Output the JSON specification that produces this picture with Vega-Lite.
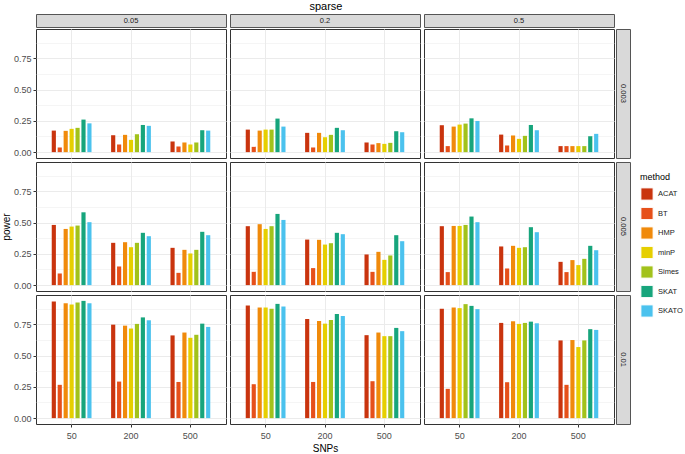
{
  "$schema": "https://vega.github.io/schema/vega-lite/v6.json",
  "padding": {"left": 0, "top": 0, "right": 1, "bottom": 1},
  "title": {"text": "sparse", "fontSize": 11, "fontWeight": "normal", "font": "Liberation Sans", "color": "#000000", "offset": 2, "anchor": "middle", "frame": "bounds", "dx": -16},
  "datasets": {
    "d": [
      {"rate":"0.003","prop":"0.05","SNPs":"50","method":"ACAT","power":0.172},
      {"rate":"0.003","prop":"0.05","SNPs":"50","method":"BT","power":0.037},
      {"rate":"0.003","prop":"0.05","SNPs":"50","method":"HMP","power":0.170},
      {"rate":"0.003","prop":"0.05","SNPs":"50","method":"minP","power":0.186},
      {"rate":"0.003","prop":"0.05","SNPs":"50","method":"Simes","power":0.194},
      {"rate":"0.003","prop":"0.05","SNPs":"50","method":"SKAT","power":0.260},
      {"rate":"0.003","prop":"0.05","SNPs":"50","method":"SKATO","power":0.230},
      {"rate":"0.003","prop":"0.05","SNPs":"200","method":"ACAT","power":0.135},
      {"rate":"0.003","prop":"0.05","SNPs":"200","method":"BT","power":0.061},
      {"rate":"0.003","prop":"0.05","SNPs":"200","method":"HMP","power":0.138},
      {"rate":"0.003","prop":"0.05","SNPs":"200","method":"minP","power":0.098},
      {"rate":"0.003","prop":"0.05","SNPs":"200","method":"Simes","power":0.143},
      {"rate":"0.003","prop":"0.05","SNPs":"200","method":"SKAT","power":0.217},
      {"rate":"0.003","prop":"0.05","SNPs":"200","method":"SKATO","power":0.210},
      {"rate":"0.003","prop":"0.05","SNPs":"500","method":"ACAT","power":0.085},
      {"rate":"0.003","prop":"0.05","SNPs":"500","method":"BT","power":0.045},
      {"rate":"0.003","prop":"0.05","SNPs":"500","method":"HMP","power":0.077},
      {"rate":"0.003","prop":"0.05","SNPs":"500","method":"minP","power":0.061},
      {"rate":"0.003","prop":"0.05","SNPs":"500","method":"Simes","power":0.077},
      {"rate":"0.003","prop":"0.05","SNPs":"500","method":"SKAT","power":0.175},
      {"rate":"0.003","prop":"0.05","SNPs":"500","method":"SKATO","power":0.172},
      {"rate":"0.003","prop":"0.2","SNPs":"50","method":"ACAT","power":0.180},
      {"rate":"0.003","prop":"0.2","SNPs":"50","method":"BT","power":0.042},
      {"rate":"0.003","prop":"0.2","SNPs":"50","method":"HMP","power":0.172},
      {"rate":"0.003","prop":"0.2","SNPs":"50","method":"minP","power":0.180},
      {"rate":"0.003","prop":"0.2","SNPs":"50","method":"Simes","power":0.180},
      {"rate":"0.003","prop":"0.2","SNPs":"50","method":"SKAT","power":0.268},
      {"rate":"0.003","prop":"0.2","SNPs":"50","method":"SKATO","power":0.204},
      {"rate":"0.003","prop":"0.2","SNPs":"200","method":"ACAT","power":0.154},
      {"rate":"0.003","prop":"0.2","SNPs":"200","method":"BT","power":0.037},
      {"rate":"0.003","prop":"0.2","SNPs":"200","method":"HMP","power":0.154},
      {"rate":"0.003","prop":"0.2","SNPs":"200","method":"minP","power":0.119},
      {"rate":"0.003","prop":"0.2","SNPs":"200","method":"Simes","power":0.138},
      {"rate":"0.003","prop":"0.2","SNPs":"200","method":"SKAT","power":0.194},
      {"rate":"0.003","prop":"0.2","SNPs":"200","method":"SKATO","power":0.175},
      {"rate":"0.003","prop":"0.2","SNPs":"500","method":"ACAT","power":0.077},
      {"rate":"0.003","prop":"0.2","SNPs":"500","method":"BT","power":0.061},
      {"rate":"0.003","prop":"0.2","SNPs":"500","method":"HMP","power":0.072},
      {"rate":"0.003","prop":"0.2","SNPs":"500","method":"minP","power":0.066},
      {"rate":"0.003","prop":"0.2","SNPs":"500","method":"Simes","power":0.074},
      {"rate":"0.003","prop":"0.2","SNPs":"500","method":"SKAT","power":0.167},
      {"rate":"0.003","prop":"0.2","SNPs":"500","method":"SKATO","power":0.159},
      {"rate":"0.003","prop":"0.5","SNPs":"50","method":"ACAT","power":0.215},
      {"rate":"0.003","prop":"0.5","SNPs":"50","method":"BT","power":0.048},
      {"rate":"0.003","prop":"0.5","SNPs":"50","method":"HMP","power":0.204},
      {"rate":"0.003","prop":"0.5","SNPs":"50","method":"minP","power":0.220},
      {"rate":"0.003","prop":"0.5","SNPs":"50","method":"Simes","power":0.228},
      {"rate":"0.003","prop":"0.5","SNPs":"50","method":"SKAT","power":0.270},
      {"rate":"0.003","prop":"0.5","SNPs":"50","method":"SKATO","power":0.249},
      {"rate":"0.003","prop":"0.5","SNPs":"200","method":"ACAT","power":0.140},
      {"rate":"0.003","prop":"0.5","SNPs":"200","method":"BT","power":0.053},
      {"rate":"0.003","prop":"0.5","SNPs":"200","method":"HMP","power":0.133},
      {"rate":"0.003","prop":"0.5","SNPs":"200","method":"minP","power":0.106},
      {"rate":"0.003","prop":"0.5","SNPs":"200","method":"Simes","power":0.130},
      {"rate":"0.003","prop":"0.5","SNPs":"200","method":"SKAT","power":0.217},
      {"rate":"0.003","prop":"0.5","SNPs":"200","method":"SKATO","power":0.175},
      {"rate":"0.003","prop":"0.5","SNPs":"500","method":"ACAT","power":0.048},
      {"rate":"0.003","prop":"0.5","SNPs":"500","method":"BT","power":0.048},
      {"rate":"0.003","prop":"0.5","SNPs":"500","method":"HMP","power":0.048},
      {"rate":"0.003","prop":"0.5","SNPs":"500","method":"minP","power":0.048},
      {"rate":"0.003","prop":"0.5","SNPs":"500","method":"Simes","power":0.048},
      {"rate":"0.003","prop":"0.5","SNPs":"500","method":"SKAT","power":0.127},
      {"rate":"0.003","prop":"0.5","SNPs":"500","method":"SKATO","power":0.146},
      {"rate":"0.005","prop":"0.05","SNPs":"50","method":"ACAT","power":0.481},
      {"rate":"0.005","prop":"0.05","SNPs":"50","method":"BT","power":0.093},
      {"rate":"0.005","prop":"0.05","SNPs":"50","method":"HMP","power":0.449},
      {"rate":"0.005","prop":"0.05","SNPs":"50","method":"minP","power":0.468},
      {"rate":"0.005","prop":"0.05","SNPs":"50","method":"Simes","power":0.476},
      {"rate":"0.005","prop":"0.05","SNPs":"50","method":"SKAT","power":0.582},
      {"rate":"0.005","prop":"0.05","SNPs":"50","method":"SKATO","power":0.503},
      {"rate":"0.005","prop":"0.05","SNPs":"200","method":"ACAT","power":0.338},
      {"rate":"0.005","prop":"0.05","SNPs":"200","method":"BT","power":0.149},
      {"rate":"0.005","prop":"0.05","SNPs":"200","method":"HMP","power":0.343},
      {"rate":"0.005","prop":"0.05","SNPs":"200","method":"minP","power":0.303},
      {"rate":"0.005","prop":"0.05","SNPs":"200","method":"Simes","power":0.338},
      {"rate":"0.005","prop":"0.05","SNPs":"200","method":"SKAT","power":0.418},
      {"rate":"0.005","prop":"0.05","SNPs":"200","method":"SKATO","power":0.391},
      {"rate":"0.005","prop":"0.05","SNPs":"500","method":"ACAT","power":0.298},
      {"rate":"0.005","prop":"0.05","SNPs":"500","method":"BT","power":0.098},
      {"rate":"0.005","prop":"0.05","SNPs":"500","method":"HMP","power":0.282},
      {"rate":"0.005","prop":"0.05","SNPs":"500","method":"minP","power":0.253},
      {"rate":"0.005","prop":"0.05","SNPs":"500","method":"Simes","power":0.282},
      {"rate":"0.005","prop":"0.05","SNPs":"500","method":"SKAT","power":0.426},
      {"rate":"0.005","prop":"0.05","SNPs":"500","method":"SKATO","power":0.399},
      {"rate":"0.005","prop":"0.2","SNPs":"50","method":"ACAT","power":0.471},
      {"rate":"0.005","prop":"0.2","SNPs":"50","method":"BT","power":0.106},
      {"rate":"0.005","prop":"0.2","SNPs":"50","method":"HMP","power":0.487},
      {"rate":"0.005","prop":"0.2","SNPs":"50","method":"minP","power":0.449},
      {"rate":"0.005","prop":"0.2","SNPs":"50","method":"Simes","power":0.471},
      {"rate":"0.005","prop":"0.2","SNPs":"50","method":"SKAT","power":0.569},
      {"rate":"0.005","prop":"0.2","SNPs":"50","method":"SKATO","power":0.521},
      {"rate":"0.005","prop":"0.2","SNPs":"200","method":"ACAT","power":0.364},
      {"rate":"0.005","prop":"0.2","SNPs":"200","method":"BT","power":0.136},
      {"rate":"0.005","prop":"0.2","SNPs":"200","method":"HMP","power":0.362},
      {"rate":"0.005","prop":"0.2","SNPs":"200","method":"minP","power":0.324},
      {"rate":"0.005","prop":"0.2","SNPs":"200","method":"Simes","power":0.335},
      {"rate":"0.005","prop":"0.2","SNPs":"200","method":"SKAT","power":0.418},
      {"rate":"0.005","prop":"0.2","SNPs":"200","method":"SKATO","power":0.407},
      {"rate":"0.005","prop":"0.2","SNPs":"500","method":"ACAT","power":0.245},
      {"rate":"0.005","prop":"0.2","SNPs":"500","method":"BT","power":0.106},
      {"rate":"0.005","prop":"0.2","SNPs":"500","method":"HMP","power":0.266},
      {"rate":"0.005","prop":"0.2","SNPs":"500","method":"minP","power":0.202},
      {"rate":"0.005","prop":"0.2","SNPs":"500","method":"Simes","power":0.237},
      {"rate":"0.005","prop":"0.2","SNPs":"500","method":"SKAT","power":0.399},
      {"rate":"0.005","prop":"0.2","SNPs":"500","method":"SKATO","power":0.351},
      {"rate":"0.005","prop":"0.5","SNPs":"50","method":"ACAT","power":0.471},
      {"rate":"0.005","prop":"0.5","SNPs":"50","method":"BT","power":0.104},
      {"rate":"0.005","prop":"0.5","SNPs":"50","method":"HMP","power":0.473},
      {"rate":"0.005","prop":"0.5","SNPs":"50","method":"minP","power":0.473},
      {"rate":"0.005","prop":"0.5","SNPs":"50","method":"Simes","power":0.481},
      {"rate":"0.005","prop":"0.5","SNPs":"50","method":"SKAT","power":0.548},
      {"rate":"0.005","prop":"0.5","SNPs":"50","method":"SKATO","power":0.503},
      {"rate":"0.005","prop":"0.5","SNPs":"200","method":"ACAT","power":0.309},
      {"rate":"0.005","prop":"0.5","SNPs":"200","method":"BT","power":0.133},
      {"rate":"0.005","prop":"0.5","SNPs":"200","method":"HMP","power":0.314},
      {"rate":"0.005","prop":"0.5","SNPs":"200","method":"minP","power":0.298},
      {"rate":"0.005","prop":"0.5","SNPs":"200","method":"Simes","power":0.303},
      {"rate":"0.005","prop":"0.5","SNPs":"200","method":"SKAT","power":0.463},
      {"rate":"0.005","prop":"0.5","SNPs":"200","method":"SKATO","power":0.423},
      {"rate":"0.005","prop":"0.5","SNPs":"500","method":"ACAT","power":0.186},
      {"rate":"0.005","prop":"0.5","SNPs":"500","method":"BT","power":0.104},
      {"rate":"0.005","prop":"0.5","SNPs":"500","method":"HMP","power":0.200},
      {"rate":"0.005","prop":"0.5","SNPs":"500","method":"minP","power":0.160},
      {"rate":"0.005","prop":"0.5","SNPs":"500","method":"Simes","power":0.210},
      {"rate":"0.005","prop":"0.5","SNPs":"500","method":"SKAT","power":0.314},
      {"rate":"0.005","prop":"0.5","SNPs":"500","method":"SKATO","power":0.279},
      {"rate":"0.01","prop":"0.05","SNPs":"50","method":"ACAT","power":0.932},
      {"rate":"0.01","prop":"0.05","SNPs":"50","method":"BT","power":0.266},
      {"rate":"0.01","prop":"0.05","SNPs":"50","method":"HMP","power":0.918},
      {"rate":"0.01","prop":"0.05","SNPs":"50","method":"minP","power":0.908},
      {"rate":"0.01","prop":"0.05","SNPs":"50","method":"Simes","power":0.924},
      {"rate":"0.01","prop":"0.05","SNPs":"50","method":"SKAT","power":0.937},
      {"rate":"0.01","prop":"0.05","SNPs":"50","method":"SKATO","power":0.918},
      {"rate":"0.01","prop":"0.05","SNPs":"200","method":"ACAT","power":0.747},
      {"rate":"0.01","prop":"0.05","SNPs":"200","method":"BT","power":0.292},
      {"rate":"0.01","prop":"0.05","SNPs":"200","method":"HMP","power":0.739},
      {"rate":"0.01","prop":"0.05","SNPs":"200","method":"minP","power":0.716},
      {"rate":"0.01","prop":"0.05","SNPs":"200","method":"Simes","power":0.753},
      {"rate":"0.01","prop":"0.05","SNPs":"200","method":"SKAT","power":0.805},
      {"rate":"0.01","prop":"0.05","SNPs":"200","method":"SKATO","power":0.782},
      {"rate":"0.01","prop":"0.05","SNPs":"500","method":"ACAT","power":0.661},
      {"rate":"0.01","prop":"0.05","SNPs":"500","method":"BT","power":0.289},
      {"rate":"0.01","prop":"0.05","SNPs":"500","method":"HMP","power":0.684},
      {"rate":"0.01","prop":"0.05","SNPs":"500","method":"minP","power":0.642},
      {"rate":"0.01","prop":"0.05","SNPs":"500","method":"Simes","power":0.666},
      {"rate":"0.01","prop":"0.05","SNPs":"500","method":"SKAT","power":0.755},
      {"rate":"0.01","prop":"0.05","SNPs":"500","method":"SKATO","power":0.729},
      {"rate":"0.01","prop":"0.2","SNPs":"50","method":"ACAT","power":0.900},
      {"rate":"0.01","prop":"0.2","SNPs":"50","method":"BT","power":0.271},
      {"rate":"0.01","prop":"0.2","SNPs":"50","method":"HMP","power":0.884},
      {"rate":"0.01","prop":"0.2","SNPs":"50","method":"minP","power":0.884},
      {"rate":"0.01","prop":"0.2","SNPs":"50","method":"Simes","power":0.874},
      {"rate":"0.01","prop":"0.2","SNPs":"50","method":"SKAT","power":0.913},
      {"rate":"0.01","prop":"0.2","SNPs":"50","method":"SKATO","power":0.892},
      {"rate":"0.01","prop":"0.2","SNPs":"200","method":"ACAT","power":0.792},
      {"rate":"0.01","prop":"0.2","SNPs":"200","method":"BT","power":0.289},
      {"rate":"0.01","prop":"0.2","SNPs":"200","method":"HMP","power":0.776},
      {"rate":"0.01","prop":"0.2","SNPs":"200","method":"minP","power":0.755},
      {"rate":"0.01","prop":"0.2","SNPs":"200","method":"Simes","power":0.784},
      {"rate":"0.01","prop":"0.2","SNPs":"200","method":"SKAT","power":0.832},
      {"rate":"0.01","prop":"0.2","SNPs":"200","method":"SKATO","power":0.816},
      {"rate":"0.01","prop":"0.2","SNPs":"500","method":"ACAT","power":0.663},
      {"rate":"0.01","prop":"0.2","SNPs":"500","method":"BT","power":0.295},
      {"rate":"0.01","prop":"0.2","SNPs":"500","method":"HMP","power":0.684},
      {"rate":"0.01","prop":"0.2","SNPs":"500","method":"minP","power":0.655},
      {"rate":"0.01","prop":"0.2","SNPs":"500","method":"Simes","power":0.655},
      {"rate":"0.01","prop":"0.2","SNPs":"500","method":"SKAT","power":0.721},
      {"rate":"0.01","prop":"0.2","SNPs":"500","method":"SKATO","power":0.695},
      {"rate":"0.01","prop":"0.5","SNPs":"50","method":"ACAT","power":0.874},
      {"rate":"0.01","prop":"0.5","SNPs":"50","method":"BT","power":0.234},
      {"rate":"0.01","prop":"0.5","SNPs":"50","method":"HMP","power":0.884},
      {"rate":"0.01","prop":"0.5","SNPs":"50","method":"minP","power":0.879},
      {"rate":"0.01","prop":"0.5","SNPs":"50","method":"Simes","power":0.911},
      {"rate":"0.01","prop":"0.5","SNPs":"50","method":"SKAT","power":0.897},
      {"rate":"0.01","prop":"0.5","SNPs":"50","method":"SKATO","power":0.871},
      {"rate":"0.01","prop":"0.5","SNPs":"200","method":"ACAT","power":0.761},
      {"rate":"0.01","prop":"0.5","SNPs":"200","method":"BT","power":0.287},
      {"rate":"0.01","prop":"0.5","SNPs":"200","method":"HMP","power":0.774},
      {"rate":"0.01","prop":"0.5","SNPs":"200","method":"minP","power":0.753},
      {"rate":"0.01","prop":"0.5","SNPs":"200","method":"Simes","power":0.761},
      {"rate":"0.01","prop":"0.5","SNPs":"200","method":"SKAT","power":0.771},
      {"rate":"0.01","prop":"0.5","SNPs":"200","method":"SKATO","power":0.758},
      {"rate":"0.01","prop":"0.5","SNPs":"500","method":"ACAT","power":0.621},
      {"rate":"0.01","prop":"0.5","SNPs":"500","method":"BT","power":0.266},
      {"rate":"0.01","prop":"0.5","SNPs":"500","method":"HMP","power":0.624},
      {"rate":"0.01","prop":"0.5","SNPs":"500","method":"minP","power":0.568},
      {"rate":"0.01","prop":"0.5","SNPs":"500","method":"Simes","power":0.621},
      {"rate":"0.01","prop":"0.5","SNPs":"500","method":"SKAT","power":0.711},
      {"rate":"0.01","prop":"0.5","SNPs":"500","method":"SKATO","power":0.705}
    ]
  },
  "data": {"name": "d"},
  "columns": 4,
  "spacing": 0,
  "align": "each",
  "concat": [
    {"width": 190, "height": 13, "data": {"values": [{"lab": "0.05"}]}, "view": {"fill": "#D9D9D9", "stroke": "#555555"}, "mark": {"type": "text", "fontSize": 7.5, "font": "Liberation Sans", "color": "#1A1A1A", "baseline": "middle", "align": "center"}, "encoding": {"text": {"field": "lab"}}},
    {"width": 190, "height": 13, "data": {"values": [{"lab": "0.2"}]}, "view": {"fill": "#D9D9D9", "stroke": "#555555"}, "mark": {"type": "text", "fontSize": 7.5, "font": "Liberation Sans", "color": "#1A1A1A", "baseline": "middle", "align": "center"}, "encoding": {"text": {"field": "lab"}}},
    {"width": 190, "height": 13, "data": {"values": [{"lab": "0.5"}]}, "view": {"fill": "#D9D9D9", "stroke": "#555555"}, "mark": {"type": "text", "fontSize": 7.5, "font": "Liberation Sans", "color": "#1A1A1A", "baseline": "middle", "align": "center"}, "encoding": {"text": {"field": "lab"}}},
    {"width": 14, "height": 13, "data": {"values": [{"lab": ""}]}, "view": {"stroke": null}, "mark": {"type": "text"}, "encoding": {"text": {"field": "lab"}}},

    {"width": 190, "height": 129, "transform": [{"filter": "datum.rate === '0.003' && datum.prop === '0.05'"}], "mark": "bar",
     "encoding": {
       "x": {"field": "SNPs", "type": "nominal", "sort": ["50","200","500"], "scale": {"paddingInner": 0.3, "paddingOuter": 0.25}, "axis": {"title": null, "labels": false, "ticks": true, "tickOpacity": 0, "tickSize": 2}},
       "xOffset": {"field": "method", "type": "nominal", "sort": ["ACAT","BT","HMP","minP","Simes","SKAT","SKATO"], "scale": {"paddingInner": 0.3, "paddingOuter": 0.15}},
       "y": {"field": "power", "type": "quantitative", "scale": {"domain": [-0.047, 0.984], "nice": false, "zero": false}, "axis": {"title": null, "values": [0,0.125,0.25,0.375,0.5,0.625,0.75,0.875], "labelOverlap": false, "labelExpr": "datum.value % 0.25 === 0 ? format(datum.value, '.2f') : ''", "tickOpacity": {"condition": {"test": "datum.value % 0.25 !== 0", "value": 0}, "value": 1}, "gridWidth": {"condition": {"test": "datum.value % 0.25 !== 0", "value": 0.5}, "value": 1}}},
       "color": {"field": "method", "type": "nominal", "scale": {"domain": ["ACAT","BT","HMP","minP","Simes","SKAT","SKATO"], "range": ["#C9340E","#E6501A","#F08A0B","#E6CF00","#A2C21B","#17A57C","#4BC2EE"]}, "legend": {"title": "method", "orient": "none", "legendX": 604, "legendY": 159}}
     }},
    {"width": 190, "height": 129, "transform": [{"filter": "datum.rate === '0.003' && datum.prop === '0.2'"}], "mark": "bar",
     "encoding": {
       "x": {"field": "SNPs", "type": "nominal", "sort": ["50","200","500"], "scale": {"paddingInner": 0.3, "paddingOuter": 0.25}, "axis": {"title": null, "labels": false, "ticks": true, "tickOpacity": 0, "tickSize": 2}},
       "xOffset": {"field": "method", "type": "nominal", "sort": ["ACAT","BT","HMP","minP","Simes","SKAT","SKATO"], "scale": {"paddingInner": 0.3, "paddingOuter": 0.15}},
       "y": {"field": "power", "type": "quantitative", "scale": {"domain": [-0.047, 0.984], "nice": false, "zero": false}, "axis": {"title": null, "labels": false, "ticks": true, "tickOpacity": 0, "tickSize": 2, "values": [0,0.125,0.25,0.375,0.5,0.625,0.75,0.875], "gridWidth": {"condition": {"test": "datum.value % 0.25 !== 0", "value": 0.5}, "value": 1}}},
       "color": {"field": "method", "type": "nominal"}
     }},
    {"width": 190, "height": 129, "transform": [{"filter": "datum.rate === '0.003' && datum.prop === '0.5'"}], "mark": "bar",
     "encoding": {
       "x": {"field": "SNPs", "type": "nominal", "sort": ["50","200","500"], "scale": {"paddingInner": 0.3, "paddingOuter": 0.25}, "axis": {"title": null, "labels": false, "ticks": true, "tickOpacity": 0, "tickSize": 2}},
       "xOffset": {"field": "method", "type": "nominal", "sort": ["ACAT","BT","HMP","minP","Simes","SKAT","SKATO"], "scale": {"paddingInner": 0.3, "paddingOuter": 0.15}},
       "y": {"field": "power", "type": "quantitative", "scale": {"domain": [-0.047, 0.984], "nice": false, "zero": false}, "axis": {"title": null, "labels": false, "ticks": true, "tickOpacity": 0, "tickSize": 2, "values": [0,0.125,0.25,0.375,0.5,0.625,0.75,0.875], "gridWidth": {"condition": {"test": "datum.value % 0.25 !== 0", "value": 0.5}, "value": 1}}},
       "color": {"field": "method", "type": "nominal"}
     }},
    {"width": 14, "height": 129, "data": {"values": [{"lab": "0.003"}]}, "view": {"fill": "#D9D9D9", "stroke": "#555555"}, "mark": {"type": "text", "fontSize": 7.5, "font": "Liberation Sans", "color": "#1A1A1A", "baseline": "middle", "align": "center", "angle": 90}, "encoding": {"text": {"field": "lab"}}},

    {"width": 190, "height": 129, "transform": [{"filter": "datum.rate === '0.005' && datum.prop === '0.05'"}], "mark": "bar",
     "encoding": {
       "x": {"field": "SNPs", "type": "nominal", "sort": ["50","200","500"], "scale": {"paddingInner": 0.3, "paddingOuter": 0.25}, "axis": {"title": null, "labels": false, "ticks": true, "tickOpacity": 0, "tickSize": 2}},
       "xOffset": {"field": "method", "type": "nominal", "sort": ["ACAT","BT","HMP","minP","Simes","SKAT","SKATO"], "scale": {"paddingInner": 0.3, "paddingOuter": 0.15}},
       "y": {"field": "power", "type": "quantitative", "scale": {"domain": [-0.047, 0.984], "nice": false, "zero": false}, "axis": {"title": "power", "values": [0,0.125,0.25,0.375,0.5,0.625,0.75,0.875], "labelOverlap": false, "labelExpr": "datum.value % 0.25 === 0 ? format(datum.value, '.2f') : ''", "tickOpacity": {"condition": {"test": "datum.value % 0.25 !== 0", "value": 0}, "value": 1}, "gridWidth": {"condition": {"test": "datum.value % 0.25 !== 0", "value": 0.5}, "value": 1}}},
       "color": {"field": "method", "type": "nominal"}
     }},
    {"width": 190, "height": 129, "transform": [{"filter": "datum.rate === '0.005' && datum.prop === '0.2'"}], "mark": "bar",
     "encoding": {
       "x": {"field": "SNPs", "type": "nominal", "sort": ["50","200","500"], "scale": {"paddingInner": 0.3, "paddingOuter": 0.25}, "axis": {"title": null, "labels": false, "ticks": true, "tickOpacity": 0, "tickSize": 2}},
       "xOffset": {"field": "method", "type": "nominal", "sort": ["ACAT","BT","HMP","minP","Simes","SKAT","SKATO"], "scale": {"paddingInner": 0.3, "paddingOuter": 0.15}},
       "y": {"field": "power", "type": "quantitative", "scale": {"domain": [-0.047, 0.984], "nice": false, "zero": false}, "axis": {"title": null, "labels": false, "ticks": true, "tickOpacity": 0, "tickSize": 2, "values": [0,0.125,0.25,0.375,0.5,0.625,0.75,0.875], "gridWidth": {"condition": {"test": "datum.value % 0.25 !== 0", "value": 0.5}, "value": 1}}},
       "color": {"field": "method", "type": "nominal"}
     }},
    {"width": 190, "height": 129, "transform": [{"filter": "datum.rate === '0.005' && datum.prop === '0.5'"}], "mark": "bar",
     "encoding": {
       "x": {"field": "SNPs", "type": "nominal", "sort": ["50","200","500"], "scale": {"paddingInner": 0.3, "paddingOuter": 0.25}, "axis": {"title": null, "labels": false, "ticks": true, "tickOpacity": 0, "tickSize": 2}},
       "xOffset": {"field": "method", "type": "nominal", "sort": ["ACAT","BT","HMP","minP","Simes","SKAT","SKATO"], "scale": {"paddingInner": 0.3, "paddingOuter": 0.15}},
       "y": {"field": "power", "type": "quantitative", "scale": {"domain": [-0.047, 0.984], "nice": false, "zero": false}, "axis": {"title": null, "labels": false, "ticks": true, "tickOpacity": 0, "tickSize": 2, "values": [0,0.125,0.25,0.375,0.5,0.625,0.75,0.875], "gridWidth": {"condition": {"test": "datum.value % 0.25 !== 0", "value": 0.5}, "value": 1}}},
       "color": {"field": "method", "type": "nominal"}
     }},
    {"width": 14, "height": 129, "data": {"values": [{"lab": "0.005"}]}, "view": {"fill": "#D9D9D9", "stroke": "#555555"}, "mark": {"type": "text", "fontSize": 7.5, "font": "Liberation Sans", "color": "#1A1A1A", "baseline": "middle", "align": "center", "angle": 90}, "encoding": {"text": {"field": "lab"}}},

    {"width": 190, "height": 129, "transform": [{"filter": "datum.rate === '0.01' && datum.prop === '0.05'"}], "mark": "bar",
     "encoding": {
       "x": {"field": "SNPs", "type": "nominal", "sort": ["50","200","500"], "scale": {"paddingInner": 0.3, "paddingOuter": 0.25}, "axis": {"title": null}},
       "xOffset": {"field": "method", "type": "nominal", "sort": ["ACAT","BT","HMP","minP","Simes","SKAT","SKATO"], "scale": {"paddingInner": 0.3, "paddingOuter": 0.15}},
       "y": {"field": "power", "type": "quantitative", "scale": {"domain": [-0.047, 0.984], "nice": false, "zero": false}, "axis": {"title": null, "values": [0,0.125,0.25,0.375,0.5,0.625,0.75,0.875], "labelOverlap": false, "labelExpr": "datum.value % 0.25 === 0 ? format(datum.value, '.2f') : ''", "tickOpacity": {"condition": {"test": "datum.value % 0.25 !== 0", "value": 0}, "value": 1}, "gridWidth": {"condition": {"test": "datum.value % 0.25 !== 0", "value": 0.5}, "value": 1}}},
       "color": {"field": "method", "type": "nominal"}
     }},
    {"width": 190, "height": 129, "transform": [{"filter": "datum.rate === '0.01' && datum.prop === '0.2'"}], "mark": "bar",
     "encoding": {
       "x": {"field": "SNPs", "type": "nominal", "sort": ["50","200","500"], "scale": {"paddingInner": 0.3, "paddingOuter": 0.25}, "axis": {"title": "SNPs"}},
       "xOffset": {"field": "method", "type": "nominal", "sort": ["ACAT","BT","HMP","minP","Simes","SKAT","SKATO"], "scale": {"paddingInner": 0.3, "paddingOuter": 0.15}},
       "y": {"field": "power", "type": "quantitative", "scale": {"domain": [-0.047, 0.984], "nice": false, "zero": false}, "axis": {"title": null, "labels": false, "ticks": true, "tickOpacity": 0, "tickSize": 2, "values": [0,0.125,0.25,0.375,0.5,0.625,0.75,0.875], "gridWidth": {"condition": {"test": "datum.value % 0.25 !== 0", "value": 0.5}, "value": 1}}},
       "color": {"field": "method", "type": "nominal"}
     }},
    {"width": 190, "height": 129, "transform": [{"filter": "datum.rate === '0.01' && datum.prop === '0.5'"}], "mark": "bar",
     "encoding": {
       "x": {"field": "SNPs", "type": "nominal", "sort": ["50","200","500"], "scale": {"paddingInner": 0.3, "paddingOuter": 0.25}, "axis": {"title": null}},
       "xOffset": {"field": "method", "type": "nominal", "sort": ["ACAT","BT","HMP","minP","Simes","SKAT","SKATO"], "scale": {"paddingInner": 0.3, "paddingOuter": 0.15}},
       "y": {"field": "power", "type": "quantitative", "scale": {"domain": [-0.047, 0.984], "nice": false, "zero": false}, "axis": {"title": null, "labels": false, "ticks": true, "tickOpacity": 0, "tickSize": 2, "values": [0,0.125,0.25,0.375,0.5,0.625,0.75,0.875], "gridWidth": {"condition": {"test": "datum.value % 0.25 !== 0", "value": 0.5}, "value": 1}}},
       "color": {"field": "method", "type": "nominal"}
     }},
    {"width": 14, "height": 129, "data": {"values": [{"lab": "0.01"}]}, "view": {"fill": "#D9D9D9", "stroke": "#555555"}, "mark": {"type": "text", "fontSize": 7.5, "font": "Liberation Sans", "color": "#1A1A1A", "baseline": "middle", "align": "center", "angle": 90}, "encoding": {"text": {"field": "lab"}}}
  ],
  "config": {
    "view": {"stroke": "#333333", "strokeWidth": 1},
    "axis": {"domain": false, "gridColor": "#EBEBEB", "gridWidth": 1, "tickColor": "#333333", "tickSize": 3, "labelColor": "#4D4D4D", "labelFont": "Liberation Sans", "labelFontSize": 9, "labelPadding": 2, "titleFont": "Liberation Sans", "titleFontSize": 10, "titleFontWeight": "normal", "titleColor": "#000000", "titlePadding": 2},
    "axisX": {"bandPosition": 0.5, "labelAngle": 0, "grid": true, "labelPadding": 4, "titlePadding": 3},
    "legend": {"titleFont": "Liberation Sans", "titleFontSize": 9, "titleFontWeight": "normal", "titleColor": "#000000", "labelFont": "Liberation Sans", "labelFontSize": 7.5, "labelColor": "#1A1A1A", "symbolType": "square", "symbolSize": 150, "symbolStrokeColor": "#FFFFFF", "symbolStrokeWidth": 1, "symbolOpacity": 1, "rowPadding": 1.5, "labelOffset": 4, "titlePadding": 5}
  }
}
